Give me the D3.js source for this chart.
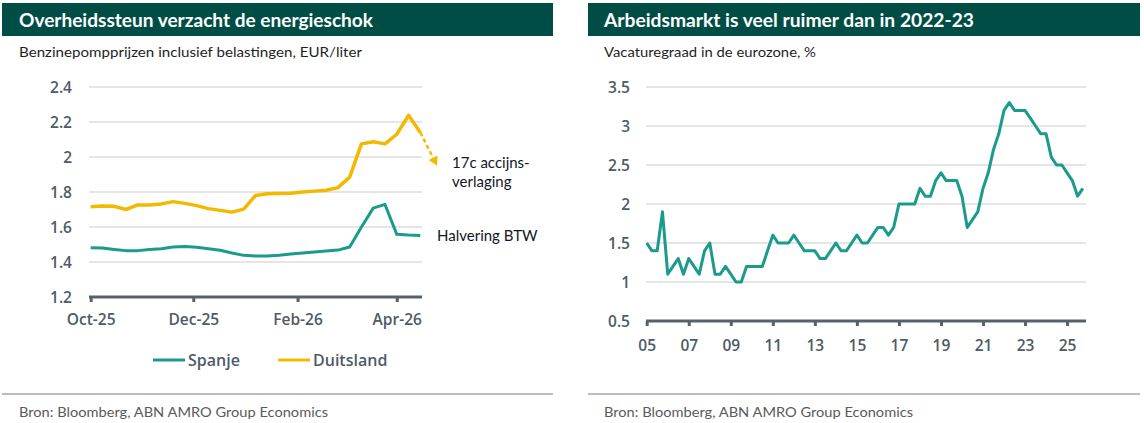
<!DOCTYPE html>
<html>
<head>
<meta charset="utf-8">
<script src="https://cdn.jsdelivr.net/npm/d3@7"></script>
<style>
html,body{margin:0;padding:0;background:#fff;}
svg{display:block;}
</style>
</head>
<body>
<svg id="c" width="1144" height="423"></svg>
<script>
// ---------- DATA ----------
const fuelDates = ["2025-10-01","2025-10-08","2025-10-15","2025-10-22","2025-10-29","2025-11-05","2025-11-12","2025-11-19","2025-11-26","2025-12-03","2025-12-10","2025-12-17","2025-12-24","2025-12-31","2026-01-07","2026-01-14","2026-01-21","2026-01-28","2026-02-04","2026-02-11","2026-02-18","2026-02-25","2026-03-04","2026-03-11","2026-03-18","2026-03-25","2026-04-01","2026-04-08","2026-04-15"];
const spanje = [1.482,1.480,1.472,1.465,1.465,1.472,1.476,1.486,1.489,1.484,1.476,1.467,1.451,1.438,1.434,1.434,1.438,1.446,1.451,1.457,1.463,1.468,1.486,1.600,1.708,1.729,1.558,1.554,1.552];
const duitsland = [1.716,1.720,1.718,1.700,1.726,1.726,1.732,1.745,1.735,1.722,1.705,1.695,1.685,1.702,1.780,1.790,1.792,1.793,1.800,1.805,1.810,1.825,1.885,2.075,2.087,2.075,2.130,2.238,2.140];
const duitslandArrowTo = {date: "2026-04-25", value: 1.95};
const fuelYTicks = [1.2,1.4,1.6,1.8,2.0,2.2,2.4];
const fuelXTicks = ["2025-10-01","2025-12-01","2026-02-01","2026-04-01"];
const fuelXTickLabels = ["Oct-25","Dec-25","Feb-26","Apr-26"];
const fuelSeriesNames = ["Spanje","Duitsland"];

const vacStartYear = 2005; // quarterly from 2005Q1
const vacancy = [1.5,1.4,1.4,1.9,1.1,1.2,1.3,1.1,1.3,1.2,1.1,1.4,1.5,1.1,1.1,1.2,1.1,1.0,1.0,1.2,1.2,1.2,1.2,1.4,1.6,1.5,1.5,1.5,1.6,1.5,1.4,1.4,1.4,1.3,1.3,1.4,1.5,1.4,1.4,1.5,1.6,1.5,1.5,1.6,1.7,1.7,1.6,1.7,2.0,2.0,2.0,2.0,2.2,2.1,2.1,2.3,2.4,2.3,2.3,2.3,2.1,1.7,1.8,1.9,2.2,2.4,2.7,2.9,3.2,3.3,3.2,3.2,3.2,3.1,3.0,2.9,2.9,2.6,2.5,2.5,2.4,2.3,2.1,2.2];
const vacYTicks = [0.5,1,1.5,2,2.5,3,3.5];
const vacXTicks = [2005,2007,2009,2011,2013,2015,2017,2019,2021,2023,2025];

const titles = ["Overheidssteun verzacht de energieschok","Arbeidsmarkt is veel ruimer dan in 2022-23"];
const subtitles = ["Benzinepompprijzen inclusief belastingen, EUR/liter","Vacaturegraad in de eurozone, %"];
const source = "Bron: Bloomberg, ABN AMRO Group Economics";

// ---------- STYLE ----------
const C = {
  header:"#004d46", teal:"#1a9b8b", yellow:"#f3b900", tick:"#4e5b66",
  axis:"#56626b", grid:"#dcdcdc", sub:"#1e1e1e", src:"#5a5a5a", rule:"#bcbcbc", note:"#101828"
};
const titleFont = "Lato, 'Open Sans', sans-serif";
const tickFont = "'Open Sans', 'Noto Sans', sans-serif";
const tickSize = 15.5;

const svg = d3.select("#c");
svg.append("rect").attr("width",1144).attr("height",423).attr("fill","#fff");

const panels = [{x0:2,x1:553,tx:19},{x0:588,x1:1140,tx:604}];
panels.forEach((p,i)=>{
  svg.append("rect").attr("x",p.x0).attr("y",3).attr("width",p.x1-p.x0).attr("height",33).attr("fill",C.header);
  svg.append("text").attr("x",p.tx).attr("y",27).text(titles[i])
    .attr("font-family",titleFont).attr("font-weight",700).attr("font-size",18).attr("fill","#fff")
    .attr("textLength",i===0?354:370).attr("lengthAdjust","spacingAndGlyphs");
  svg.append("text").attr("x",p.tx).attr("y",57).text(subtitles[i])
    .attr("font-family",titleFont).attr("font-size",14).attr("fill",C.sub)
    .attr("textLength",i===0?343:212).attr("lengthAdjust","spacingAndGlyphs");
  svg.append("line").attr("x1",p.x0).attr("x2",p.x1).attr("y1",394).attr("y2",394)
    .attr("stroke",C.rule).attr("stroke-width",2);
  svg.append("text").attr("x",p.tx).attr("y",417).text(source)
    .attr("font-family",titleFont).attr("font-size",13.5).attr("fill",C.src)
    .attr("textLength",309).attr("lengthAdjust","spacingAndGlyphs");
});

function styleAxis(g){
  g.select(".domain").attr("stroke",C.axis).attr("stroke-width",3);
  g.selectAll(".tick line").attr("stroke",C.axis).attr("stroke-width",3);
  g.selectAll(".tick text").attr("fill",C.tick).attr("font-family",tickFont)
    .attr("font-weight",600).attr("font-size",tickSize);
}

// ---------- LEFT CHART ----------
const parse = d3.utcParse("%Y-%m-%d");
const xL = d3.scaleUtc().domain([parse("2025-09-30"),parse("2026-04-16")]).range([89,422]);
const yL = d3.scaleLinear().domain([1.2,2.4]).range([297,87]);
const gL = svg.append("g");
gL.selectAll("line.grid").data(fuelYTicks.slice(1)).join("line")
  .attr("x1",89).attr("x2",422).attr("y1",d=>yL(d)).attr("y2",d=>yL(d))
  .attr("stroke",C.grid).attr("stroke-width",1.5);
gL.selectAll("text.yl").data(fuelYTicks).join("text")
  .attr("x",72).attr("y",d=>yL(d)+5.5).attr("text-anchor","end")
  .text(d=>d3.format("")(d)).attr("fill",C.tick).attr("font-family",tickFont)
  .attr("font-weight",600).attr("font-size",tickSize);
const axL = gL.append("g").attr("transform","translate(0,297)")
  .call(d3.axisBottom(xL).tickValues(fuelXTicks.map(parse))
    .tickFormat((d,i)=>fuelXTickLabels[i]).tickSizeInner(5).tickSizeOuter(0).tickPadding(12));
styleAxis(axL);
axL.select(".domain").attr("d","M89,0H422");

const lineL = (vals)=>d3.line().x((d,i)=>xL(parse(fuelDates[i]))).y(d=>yL(d))(vals);
gL.append("path").attr("d",lineL(spanje)).attr("fill","none").attr("stroke",C.teal).attr("stroke-width",3).attr("stroke-linejoin","round");
gL.append("path").attr("d",lineL(duitsland)).attr("fill","none").attr("stroke",C.yellow).attr("stroke-width",3.5).attr("stroke-linejoin","round");

// dashed arrow
const ax0 = xL(parse(fuelDates[fuelDates.length-1])), ay0 = yL(duitsland[duitsland.length-1]);
const ax1 = xL(parse(duitslandArrowTo.date)), ay1 = yL(duitslandArrowTo.value);
const ang = Math.atan2(ay1-ay0, ax1-ax0);
const hl = 9, hw = 5;
const bx = ax1 - hl*Math.cos(ang), by = ay1 - hl*Math.sin(ang);
gL.append("line").attr("x1",ax0).attr("y1",ay0).attr("x2",bx).attr("y2",by)
  .attr("stroke",C.yellow).attr("stroke-width",2.5).attr("stroke-dasharray","4,3");
gL.append("path").attr("d",`M${ax1},${ay1}L${bx - hw*Math.sin(ang)},${by + hw*Math.cos(ang)}L${bx + hw*Math.sin(ang)},${by - hw*Math.cos(ang)}Z`)
  .attr("fill",C.yellow);

// annotations
const note = (x,y,t)=>gL.append("text").attr("x",x).attr("y",y).text(t)
  .attr("font-family",titleFont).attr("font-size",15).attr("fill",C.note);
note(452,168,"17c accijns-");
note(452,187,"verlaging");
note(437,241,"Halvering BTW");

// legend
const leg = gL.append("g");
[[153,C.teal],[278,C.yellow]].forEach((l,i)=>{
  leg.append("line").attr("x1",l[0]).attr("x2",l[0]+32).attr("y1",360).attr("y2",360)
    .attr("stroke",l[1]).attr("stroke-width",3);
  leg.append("text").attr("x",l[0]+35).attr("y",366).text(fuelSeriesNames[i])
    .attr("fill",C.tick).attr("font-family",tickFont).attr("font-weight",600).attr("font-size",16);
});

// ---------- RIGHT CHART ----------
const xR = d3.scaleLinear().domain([2005,2025.9]).range([646.7,1086]);
const yR = d3.scaleLinear().domain([0.5,3.5]).range([321,87]);
const gR = svg.append("g");
gR.selectAll("line.grid").data(vacYTicks.slice(1)).join("line")
  .attr("x1",646).attr("x2",1086).attr("y1",d=>yR(d)).attr("y2",d=>yR(d))
  .attr("stroke",C.grid).attr("stroke-width",1.5);
gR.selectAll("text.yl").data(vacYTicks).join("text")
  .attr("x",630).attr("y",d=>yR(d)+5.5).attr("text-anchor","end")
  .text(d=>d3.format("")(d)).attr("fill",C.tick).attr("font-family",tickFont)
  .attr("font-weight",600).attr("font-size",tickSize);
const axR = gR.append("g").attr("transform","translate(0,321)")
  .call(d3.axisBottom(xR).tickValues(vacXTicks).tickFormat(d=>String(d).slice(2))
    .tickSizeInner(5).tickSizeOuter(0).tickPadding(14));
styleAxis(axR);
axR.select(".domain").attr("d","M646,0H1086");
gR.append("path")
  .attr("d",d3.line().x((d,i)=>xR(vacStartYear+i/4)).y(d=>yR(d))(vacancy))
  .attr("fill","none").attr("stroke",C.teal).attr("stroke-width",3).attr("stroke-linejoin","round");
</script>
</body>
</html>
